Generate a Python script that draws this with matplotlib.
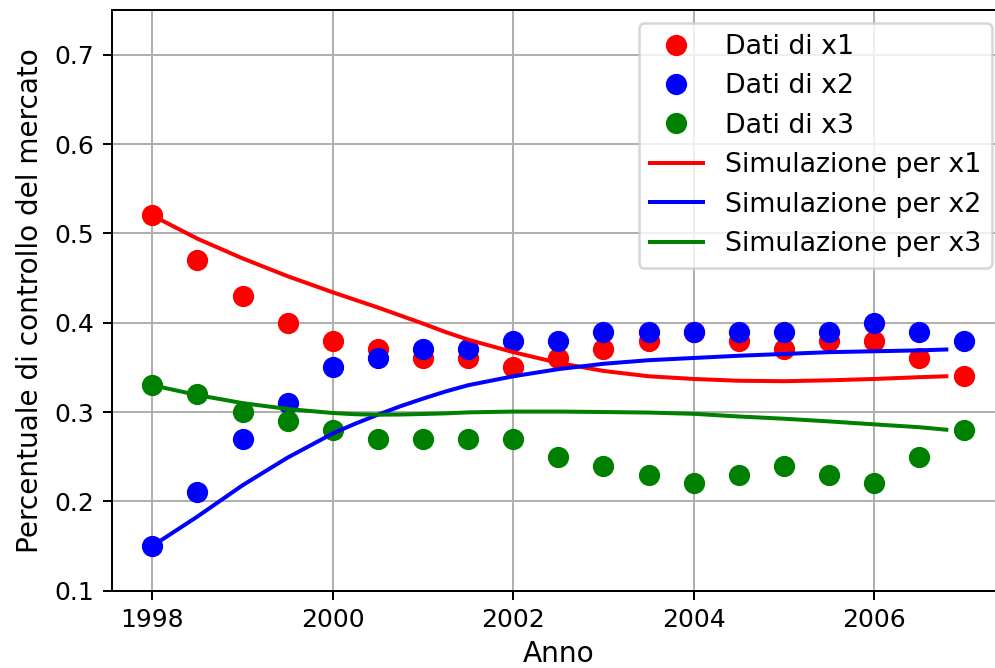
import numpy as np
import matplotlib
matplotlib.use("Agg")
import matplotlib.pyplot as plt

# Observed market shares (half-year steps)
anni = [1998, 1998.5, 1999, 1999.5, 2000, 2000.5, 2001, 2001.5, 2002, 2002.5,
        2003, 2003.5, 2004, 2004.5, 2005, 2005.5, 2006, 2006.5, 2007]
x1_dati = [0.52, 0.47, 0.43, 0.40, 0.38, 0.37, 0.36, 0.36, 0.35, 0.36,
           0.37, 0.38, 0.39, 0.38, 0.37, 0.38, 0.38, 0.36, 0.34]
x2_dati = [0.15, 0.21, 0.27, 0.31, 0.35, 0.36, 0.37, 0.37, 0.38, 0.38,
           0.39, 0.39, 0.39, 0.39, 0.39, 0.39, 0.40, 0.39, 0.38]
x3_dati = [0.33, 0.32, 0.30, 0.29, 0.28, 0.27, 0.27, 0.27, 0.27, 0.25,
           0.24, 0.23, 0.22, 0.23, 0.24, 0.23, 0.22, 0.25, 0.28]

# Simulated trajectories
t_sim = [1998, 1998.5, 1999, 1999.5, 2000, 2000.25, 2000.5, 2000.75, 2001,
         2001.25, 2001.5, 2002, 2002.5, 2003, 2003.5, 2004, 2004.5, 2005,
         2005.5, 2006, 2006.5, 2006.8]
x1_sim = [0.520, 0.494, 0.472, 0.452, 0.434, 0.4255, 0.417, 0.408, 0.399,
          0.3895, 0.381, 0.367, 0.355, 0.346, 0.340, 0.337, 0.335, 0.3345,
          0.3355, 0.337, 0.339, 0.340]
x2_sim = [0.150, 0.183, 0.218, 0.249, 0.276, 0.287, 0.297, 0.3065, 0.315,
          0.323, 0.330, 0.340, 0.348, 0.354, 0.358, 0.3605, 0.363, 0.365,
          0.367, 0.368, 0.369, 0.370]
x3_sim = [0.330, 0.319, 0.310, 0.3034, 0.2989, 0.2975, 0.297, 0.2972, 0.2978,
          0.2985, 0.2996, 0.3005, 0.3005, 0.300, 0.2994, 0.298, 0.295, 0.2925,
          0.2895, 0.2862, 0.283, 0.2802]

DPI = 180
fig = plt.figure(figsize=(995 / DPI, 668 / DPI), dpi=DPI)
ax = fig.add_axes([111.7 / 995, 77.3 / 668, (1005 - 111.7) / 995, 580.7 / 668])

ms = 7.5
ax.plot(anni, x1_dati, 'o', color='red', ms=ms, label='Dati di x1')
ax.plot(anni, x2_dati, 'o', color='blue', ms=ms, label='Dati di x2')
ax.plot(anni, x3_dati, 'o', color='green', ms=ms, label='Dati di x3')
ax.plot(t_sim, x1_sim, '-', color='red', lw=1.6, label='Simulazione per x1')
ax.plot(t_sim, x2_sim, '-', color='blue', lw=1.6, label='Simulazione per x2')
ax.plot(t_sim, x3_sim, '-', color='green', lw=1.6, label='Simulazione per x3')

ax.set_xlim(1997.55, 2007.45)
ax.set_ylim(0.1, 0.75)
ax.set_xticks([1998, 2000, 2002, 2004, 2006])
ax.tick_params(labelsize=10)
ax.set_xlabel('Anno', fontsize=11.2, labelpad=3)
ax.set_ylabel('Percentuale di controllo del mercato', fontsize=11.2)
ax.grid(True)
ax.legend(loc='upper right', fontsize=10.7)

fig.savefig('out.png', dpi=DPI)
